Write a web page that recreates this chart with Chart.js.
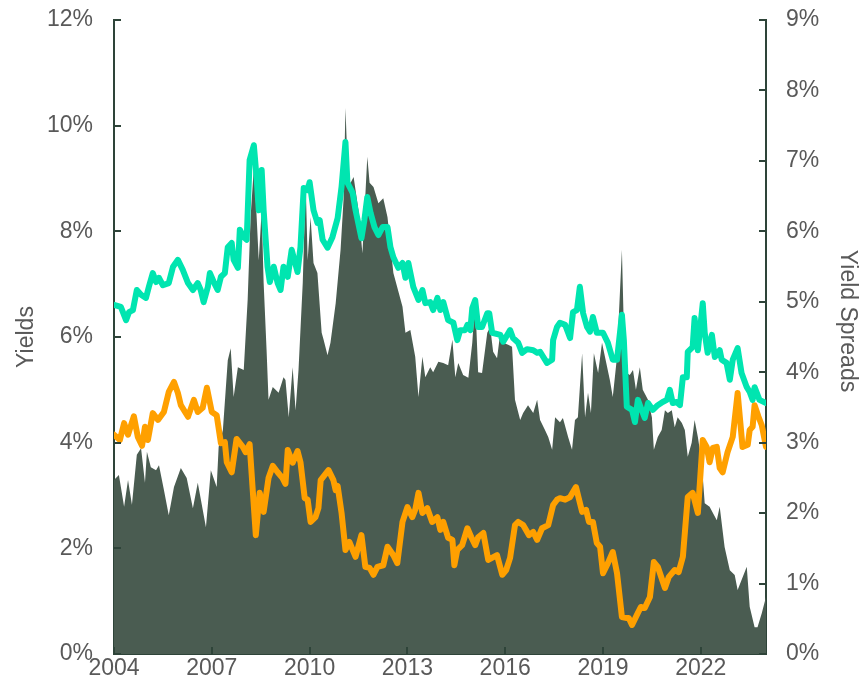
<!DOCTYPE html>
<html>
<head>
<meta charset="utf-8">
<script src="https://cdn.jsdelivr.net/npm/chart.js@4.4.1/dist/chart.umd.min.js"></script>
<style>
html,body{margin:0;padding:0;background:#fff;}
#wrap{width:861px;height:691px;}
</style>
</head>
<body>
<div id="wrap"><canvas id="c" width="861" height="691"></canvas></div>
<script>
// ---- Data ----
const xTicks = [2004, 2007, 2010, 2013, 2016, 2019, 2022];
const yieldTicks = [0, 2, 4, 6, 8, 10, 12];
const spreadTicks = [0, 1, 2, 3, 4, 5, 6, 7, 8, 9];

// Teal yield series (left axis, %)
const tealDates = [2004.00,2004.21,2004.37,2004.46,2004.58,2004.70,2004.83,2004.98,2005.07,2005.19,2005.29,2005.38,2005.50,2005.68,2005.81,2005.96,2006.11,2006.27,2006.42,2006.57,2006.66,2006.75,2006.88,2006.94,2007.06,2007.18,2007.28,2007.40,2007.49,2007.61,2007.67,2007.80,2007.86,2007.98,2008.07,2008.16,2008.29,2008.38,2008.44,2008.53,2008.59,2008.71,2008.78,2008.90,2009.02,2009.11,2009.20,2009.33,2009.45,2009.51,2009.63,2009.72,2009.82,2009.94,2010.00,2010.12,2010.24,2010.31,2010.40,2010.55,2010.70,2010.86,2010.98,2011.10,2011.16,2011.32,2011.41,2011.59,2011.68,2011.77,2011.87,2011.99,2012.11,2012.24,2012.39,2012.48,2012.57,2012.72,2012.85,2012.94,2013.03,2013.18,2013.34,2013.46,2013.55,2013.70,2013.79,2013.92,2014.01,2014.10,2014.25,2014.41,2014.53,2014.62,2014.77,2014.84,2014.93,2014.99,2015.08,2015.17,2015.29,2015.45,2015.51,2015.60,2015.85,2015.94,2016.15,2016.24,2016.40,2016.52,2016.67,2016.86,2016.98,2017.07,2017.28,2017.44,2017.47,2017.59,2017.68,2017.84,2017.99,2018.08,2018.20,2018.29,2018.39,2018.51,2018.60,2018.69,2018.81,2019.00,2019.15,2019.30,2019.43,2019.52,2019.58,2019.64,2019.73,2019.89,2019.98,2020.07,2020.16,2020.28,2020.38,2020.53,2020.68,2020.83,2020.96,2021.05,2021.14,2021.26,2021.36,2021.45,2021.57,2021.60,2021.75,2021.81,2021.91,2022.06,2022.12,2022.21,2022.34,2022.43,2022.58,2022.64,2022.79,2022.89,2022.98,2023.13,2023.25,2023.41,2023.50,2023.59,2023.65,2023.80,2024.00];
const tealYield = [6.61,6.57,6.32,6.47,6.51,6.89,6.80,6.74,6.95,7.21,7.04,7.12,6.98,7.02,7.33,7.46,7.27,7.02,6.89,7.02,6.89,6.66,6.95,7.21,7.04,6.89,7.14,7.21,7.70,7.78,7.46,7.31,8.03,7.89,7.84,9.35,9.63,8.97,8.40,9.16,8.40,7.33,7.04,7.33,7.02,6.89,7.33,7.14,7.65,7.51,7.23,7.70,8.82,8.78,8.93,8.40,8.16,8.21,7.84,7.69,7.89,8.25,8.84,9.69,8.92,8.73,8.40,7.87,8.21,8.65,8.35,8.08,7.93,8.08,8.08,7.70,7.51,7.31,7.40,7.12,7.40,6.95,6.70,6.89,6.64,6.66,6.51,6.74,6.51,6.66,6.32,6.27,5.94,6.13,6.13,6.23,6.13,6.55,6.70,6.19,6.19,6.45,6.45,6.08,6.04,5.91,6.13,5.98,5.89,5.70,5.77,5.75,5.70,5.72,5.51,5.57,5.94,6.19,6.27,6.23,5.98,6.47,6.51,6.95,6.45,6.19,6.10,6.38,6.08,6.08,5.89,5.57,5.57,6.08,6.42,5.94,4.68,4.62,4.39,4.81,4.66,4.47,4.75,4.62,4.71,4.77,4.81,5.00,4.75,4.77,4.71,5.24,5.24,5.72,5.81,6.36,5.75,6.64,6.08,5.70,6.04,5.62,5.75,5.57,5.51,5.19,5.57,5.79,5.32,5.05,4.96,4.81,5.05,4.81,4.75];

// Orange yield series (left axis, %)
const orangeDates = [2004.00,2004.18,2004.31,2004.43,2004.61,2004.73,2004.86,2004.95,2005.04,2005.19,2005.35,2005.53,2005.68,2005.84,2005.96,2006.05,2006.27,2006.45,2006.57,2006.72,2006.85,2007.00,2007.15,2007.28,2007.40,2007.46,2007.61,2007.76,2007.95,2008.04,2008.16,2008.35,2008.47,2008.59,2008.74,2008.87,2009.02,2009.17,2009.26,2009.33,2009.48,2009.63,2009.72,2009.85,2009.94,2010.03,2010.18,2010.27,2010.34,2010.58,2010.73,2010.80,2010.86,2010.98,2011.10,2011.22,2011.41,2011.59,2011.71,2011.84,2011.96,2012.08,2012.26,2012.39,2012.57,2012.69,2012.85,2013.00,2013.15,2013.24,2013.34,2013.46,2013.61,2013.76,2013.92,2014.01,2014.10,2014.25,2014.38,2014.44,2014.53,2014.68,2014.84,2014.96,2015.08,2015.17,2015.33,2015.48,2015.75,2015.91,2016.03,2016.15,2016.30,2016.40,2016.55,2016.73,2016.86,2016.98,2017.13,2017.32,2017.47,2017.59,2017.68,2017.84,2017.99,2018.17,2018.36,2018.48,2018.57,2018.69,2018.81,2018.91,2019.00,2019.15,2019.30,2019.43,2019.58,2019.73,2019.79,2019.89,2020.04,2020.16,2020.28,2020.44,2020.56,2020.68,2020.90,2021.02,2021.20,2021.32,2021.45,2021.60,2021.75,2021.91,2022.06,2022.18,2022.27,2022.37,2022.49,2022.58,2022.67,2022.82,2022.98,2023.13,2023.28,2023.44,2023.50,2023.59,2023.65,2023.77,2023.87,2024.00];
const orangeYield = [4.15,4.05,4.37,4.15,4.50,4.11,3.94,4.30,4.05,4.56,4.43,4.58,4.96,5.15,4.94,4.71,4.49,4.81,4.58,4.66,5.04,4.58,4.52,3.99,4.01,3.63,3.44,4.07,3.92,3.82,3.97,2.25,3.05,2.69,3.33,3.56,3.44,3.33,3.22,3.86,3.62,3.84,3.63,2.95,2.92,2.50,2.59,2.76,3.29,3.48,3.29,3.10,3.18,2.67,1.97,2.12,1.84,2.25,1.65,1.63,1.50,1.65,1.68,2.03,1.87,1.72,2.50,2.78,2.59,2.73,3.05,2.67,2.76,2.50,2.59,2.35,2.50,2.20,2.16,1.68,1.97,2.06,2.38,2.21,2.06,2.21,2.29,1.78,1.87,1.50,1.59,1.82,2.44,2.50,2.44,2.25,2.31,2.16,2.38,2.44,2.82,2.92,2.95,2.92,2.97,3.16,2.69,2.73,2.50,2.50,2.10,2.03,1.53,1.72,1.93,1.53,0.70,0.68,0.68,0.55,0.74,0.89,0.87,1.08,1.74,1.65,1.25,1.46,1.59,1.55,1.84,2.97,3.05,2.67,4.05,3.92,3.63,3.90,3.92,3.52,3.44,3.82,4.11,4.94,3.92,3.96,4.24,4.30,4.71,4.49,4.33,3.92];

// Yield spread series (right axis, %)
const spreadDates = [2004.00,2004.15,2004.31,2004.43,2004.55,2004.70,2004.83,2004.95,2005.01,2005.13,2005.29,2005.38,2005.53,2005.68,2005.84,2006.05,2006.23,2006.42,2006.57,2006.82,2006.97,2007.15,2007.21,2007.34,2007.49,2007.58,2007.67,2007.80,2007.98,2008.10,2008.19,2008.29,2008.35,2008.44,2008.53,2008.59,2008.68,2008.74,2008.87,2009.05,2009.20,2009.26,2009.36,2009.48,2009.57,2009.66,2009.79,2009.88,2009.94,2010.03,2010.12,2010.24,2010.37,2010.43,2010.55,2010.64,2010.80,2010.95,2011.04,2011.10,2011.19,2011.35,2011.50,2011.62,2011.77,2011.84,2011.96,2012.11,2012.26,2012.39,2012.57,2012.85,2012.94,2013.09,2013.24,2013.34,2013.46,2013.55,2013.70,2013.79,2013.95,2014.10,2014.25,2014.38,2014.47,2014.56,2014.71,2014.87,2014.99,2015.08,2015.17,2015.29,2015.45,2015.54,2015.63,2015.75,2015.85,2015.94,2016.09,2016.21,2016.30,2016.46,2016.55,2016.70,2016.86,2016.98,2017.07,2017.22,2017.32,2017.44,2017.53,2017.68,2017.77,2017.93,2018.05,2018.14,2018.23,2018.36,2018.45,2018.54,2018.63,2018.72,2018.85,2018.97,2019.06,2019.21,2019.30,2019.43,2019.49,2019.58,2019.64,2019.73,2019.82,2019.92,2020.01,2020.13,2020.22,2020.38,2020.50,2020.56,2020.68,2020.80,2020.90,2020.99,2021.11,2021.20,2021.29,2021.42,2021.51,2021.60,2021.72,2021.81,2021.91,2022.03,2022.12,2022.27,2022.49,2022.58,2022.73,2022.89,2023.04,2023.13,2023.25,2023.41,2023.50,2023.65,2023.74,2023.87,2024.00];
const spreadValues = [2.47,2.54,2.09,2.47,2.12,2.83,2.92,2.43,2.87,2.65,2.61,2.68,2.33,1.97,2.37,2.64,2.50,2.07,2.43,1.80,2.61,2.37,2.94,3.18,4.17,4.34,3.65,4.07,4.03,5.03,6.20,6.91,6.45,5.59,6.30,5.27,4.32,3.61,3.79,3.71,3.93,3.89,3.36,4.07,3.46,4.03,5.27,6.69,5.59,6.20,5.55,5.41,4.56,4.46,4.24,4.42,4.98,5.74,6.44,7.75,6.63,6.77,6.30,5.69,7.06,6.69,6.63,6.40,6.47,6.20,5.41,4.93,4.56,4.60,4.22,3.65,4.22,3.93,4.07,4.00,4.15,4.13,4.10,4.46,3.93,4.13,3.96,3.92,4.42,5.03,4.00,3.99,4.56,4.64,4.29,4.20,4.56,4.42,4.39,4.36,3.61,3.32,3.42,3.53,3.42,3.61,3.32,3.18,3.08,2.90,3.36,3.29,3.35,3.08,2.90,3.32,3.36,4.27,3.36,3.71,3.42,4.27,3.99,4.42,4.22,3.89,3.65,4.22,4.84,5.74,4.60,3.99,3.96,4.03,3.75,4.07,3.75,3.61,3.36,2.90,3.08,3.18,3.46,3.42,3.46,3.22,3.36,3.28,3.18,2.80,3.00,3.32,3.08,2.71,2.14,2.09,1.90,2.09,1.52,1.19,1.12,0.91,1.05,1.24,0.67,0.38,0.38,0.58,0.81];

// ---- Build chart ----
const pts = (xs, ys) => xs.map((x, i) => ({x: x, y: ys[i]}));
const AXIS = '#2E4439';
const TXT = '#595959';
const FONT = 'Liberation Sans, Arial, sans-serif';
const FS = 23;

const innerTicks = {
  id: 'innerTicks',
  afterDraw(chart) {
    const {ctx, chartArea: a, scales} = chart;
    ctx.save();
    ctx.strokeStyle = AXIS;
    ctx.lineWidth = 2;
    ctx.beginPath();
    yieldTicks.forEach(v => { const y = Math.round(scales.y.getPixelForValue(v)); ctx.moveTo(a.left, y); ctx.lineTo(a.left + 7, y); });
    spreadTicks.forEach(v => { const y = Math.round(scales.y2.getPixelForValue(v)); ctx.moveTo(a.right, y); ctx.lineTo(a.right - 7, y); });
    xTicks.forEach(v => { const x = Math.round(scales.x.getPixelForValue(v)); ctx.moveTo(x, a.bottom); ctx.lineTo(x, a.bottom - 7); });
    ctx.stroke();
    ctx.restore();
  }
};

const noPad = s => { s.paddingTop = 0; s.paddingBottom = 0; s.paddingLeft = 0; s.paddingRight = 0; };

new Chart(document.getElementById('c'), {
  type: 'line',
  data: {
    datasets: [
      {label: 'Teal yield', data: pts(tealDates, tealYield), yAxisID: 'y', borderColor: '#00E5B0', borderWidth: 6, pointRadius: 0, fill: false, tension: 0, order: 0, borderJoinStyle: 'round', borderCapStyle: 'round'},
      {label: 'Orange yield', data: pts(orangeDates, orangeYield), yAxisID: 'y', borderColor: '#FFA000', borderWidth: 6, pointRadius: 0, fill: false, tension: 0, order: 1, borderJoinStyle: 'round', borderCapStyle: 'round'},
      {label: 'Yield spread', data: pts(spreadDates, spreadValues), yAxisID: 'y2', borderWidth: 0, borderColor: 'rgba(0,0,0,0)', backgroundColor: '#4A5C51', pointRadius: 0, fill: 'origin', tension: 0, order: 2}
    ]
  },
  options: {
    responsive: false,
    animation: false,
    events: [],
    layout: {padding: {top: 20, left: 0, right: 0, bottom: 0}},
    plugins: {legend: {display: false}, tooltip: {enabled: false}},
    scales: {
      x: {
        type: 'linear', min: 2004, max: 2024,
        afterBuildTicks: s => { s.ticks = xTicks.map(v => ({value: v})); },
        afterFit: s => { s.height = 37; noPad(s); },
        grid: {display: false, drawTicks: false},
        border: {display: true, color: AXIS, width: 2},
        ticks: {color: TXT, font: {family: FONT, size: FS}, padding: 1, maxRotation: 0, callback: v => String(v)}
      },
      y: {
        position: 'left', min: 0, max: 12,
        afterBuildTicks: s => { s.ticks = yieldTicks.map(v => ({value: v})); },
        afterFit: s => { s.width = 114; noPad(s); },
        grid: {display: false, drawTicks: false},
        border: {display: true, color: AXIS, width: 2},
        ticks: {color: TXT, font: {family: FONT, size: FS}, padding: 21, callback: v => v + '%'},
        title: {display: true, text: 'Yields', color: TXT, font: {family: FONT, size: FS}, padding: {top: 13, bottom: 0}}
      },
      y2: {
        position: 'right', min: 0, max: 9,
        afterBuildTicks: s => { s.ticks = spreadTicks.map(v => ({value: v})); },
        afterFit: s => { s.width = 95; noPad(s); },
        grid: {display: false, drawTicks: false},
        border: {display: true, color: AXIS, width: 2},
        ticks: {color: TXT, font: {family: FONT, size: FS}, padding: 20, callback: v => v + '%'},
        title: {display: true, text: 'Yield Spreads     ', color: TXT, font: {family: FONT, size: FS}, padding: {top: 0, bottom: 0}}
      }
    }
  },
  plugins: [innerTicks]
});
</script>
</body>
</html>
